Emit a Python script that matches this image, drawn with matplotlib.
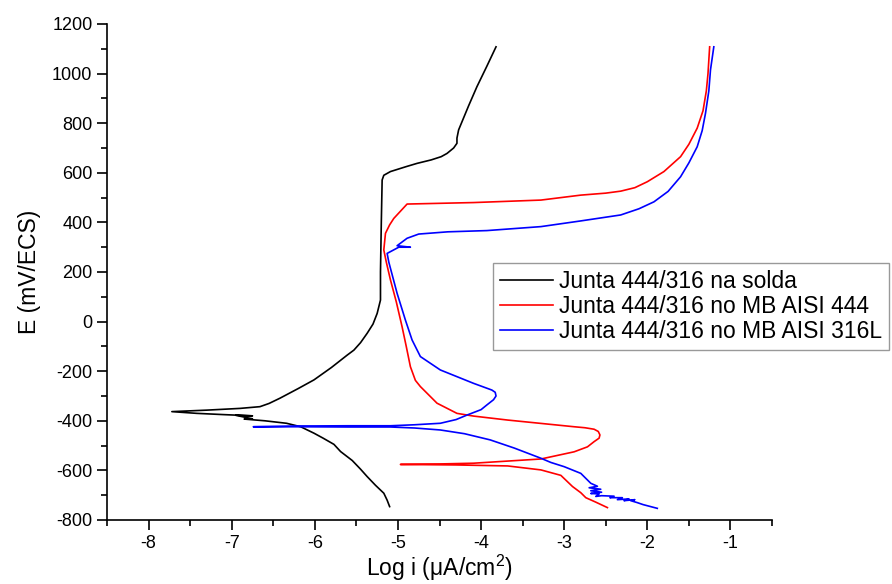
import numpy as np
import matplotlib
matplotlib.use('Agg')
import matplotlib.pyplot as plt
from matplotlib.ticker import MultipleLocator

plt.rcParams['font.family'] = ['Liberation Sans', 'DejaVu Sans']
plt.rcParams['axes.unicode_minus'] = False
plt.rcParams['mathtext.fontset'] = 'custom'
plt.rcParams['mathtext.rm'] = 'Liberation Sans'

# Junta 444/316 na solda (black) - log i, E
solda_logi = [-5.10, -5.13, -5.17, -5.27, -5.37, -5.45, -5.55, -5.69, -5.77, -5.90, -6.01,
              -6.17, -6.34, -6.60, -6.85, -6.75, -6.95, -6.75, -7.10, -7.42, -7.72,
              -7.30, -6.90, -6.66, -6.55, -6.42, -6.20, -6.01, -5.80, -5.61, -5.53,
              -5.45, -5.37, -5.30, -5.25, -5.21, -5.21, -5.20, -5.19, -5.17, -5.09,
              -4.90, -4.77, -4.60, -4.48, -4.41, -4.33, -4.29, -4.29, -4.27, -4.15,
              -4.05, -3.93, -3.82]
solda_E = [-746, -720, -692, -660, -625, -595, -560, -524, -495, -470, -450,
           -424, -410, -400, -393, -392, -378, -380, -375, -370, -363,
           -357, -350, -343, -330, -309, -270, -235, -185, -135, -115,
           -85, -47, -10, 33, 87, 200, 400, 571, 590, 605,
           625, 638, 652, 665, 678, 700, 719, 740, 773, 870,
           947, 1030, 1108]

# Junta 444/316 no MB AISI 444 (red)
mb444_logi = [-2.48, -2.62, -2.74, -2.80, -2.90, -3.04, -3.28, -3.68, -4.30, -4.97,
              -4.50, -4.09, -3.28, -2.88, -2.72, -2.64, -2.58, -2.57, -2.59, -2.64,
              -2.75, -2.88, -3.68, -4.09, -4.29, -4.53, -4.73, -4.79, -4.85, -4.90,
              -4.95, -5.02, -5.09, -5.14, -5.17, -5.15, -5.10, -5.05, -4.97, -4.89,
              -4.09, -3.28, -2.80, -2.50, -2.32, -2.15, -2.00, -1.80, -1.60, -1.50,
              -1.40, -1.33, -1.29, -1.27, -1.25]
mb444_E = [-750, -728, -710, -690, -665, -620, -598, -582, -578, -576,
           -574, -571, -554, -525, -505, -484, -470, -457, -443, -434,
           -428, -424, -397, -381, -370, -329, -262, -237, -182, -100,
           -21, 80, 168, 240, 289, 356, 390, 416, 445, 474,
           480, 490, 510, 518, 526, 540, 564, 605, 665, 715,
           780, 850, 930, 1000, 1108]

# Junta 444/316 no MB AISI 316L (blue)
mb316_logi = [-1.88, -2.05, -2.12, -2.20, -2.15, -2.28, -2.22, -2.36, -2.30, -2.45,
              -2.40, -2.55, -2.62, -2.58, -2.68, -2.55, -2.68, -2.56, -2.70, -2.60,
              -2.68, -2.80, -3.00, -3.16, -3.28, -3.60, -3.89, -4.20, -4.49, -4.80,
              -5.09, -5.60, -6.20, -6.74, -6.20, -5.60, -5.09, -4.80, -4.49, -4.30,
              -4.17, -4.00, -3.93, -3.85, -3.82, -3.83, -3.87, -4.09, -4.49, -4.73,
              -4.83, -4.91, -5.01, -5.11, -5.13, -4.99, -4.85, -5.01, -4.89, -4.75,
              -4.40, -3.93, -3.28, -2.80, -2.32, -2.10, -1.92, -1.75, -1.60, -1.50,
              -1.40, -1.34, -1.30, -1.26, -1.24, -1.20]
mb316_E = [-753, -738, -730, -722, -718, -722, -715, -718, -710, -710,
           -704, -702, -705, -695, -693, -688, -682, -676, -670, -664,
           -652, -612, -585, -568, -551, -510, -477, -452, -437, -429,
           -425, -425, -424, -424, -421, -420, -420, -416, -410, -395,
           -377, -355, -336, -315, -300, -285, -276, -249, -195, -141,
           -74, 6, 114, 240, 275, 300, 300, 306, 336, 353,
           362, 367, 383, 406, 430, 455, 483, 525, 584, 640,
           705, 770, 840, 930, 1015, 1108]

labels = ['Junta 444/316 na solda', 'Junta 444/316 no MB AISI 444', 'Junta 444/316 no MB AISI 316L']

fig = plt.figure(figsize=(8.92, 5.84), dpi=100)
ax = fig.add_axes([107 / 892, 1 - 520 / 584, (772 - 107) / 892, (520 - 24) / 584])

ax.plot(solda_logi, solda_E, color='black', lw=1.2, label=labels[0])
ax.plot(mb444_logi, mb444_E, color='#ff0000', lw=1.2, label=labels[1])
ax.plot(mb316_logi, mb316_E, color='#0000ff', lw=1.2, label=labels[2])

ax.set_xlim(-8.5, -0.5)
ax.set_ylim(-800, 1200)
ax.xaxis.set_major_locator(MultipleLocator(1))
ax.xaxis.set_minor_locator(MultipleLocator(0.5))
ax.yaxis.set_major_locator(MultipleLocator(200))
ax.yaxis.set_minor_locator(MultipleLocator(100))
ax.spines['top'].set_visible(False)
ax.spines['right'].set_visible(False)
for s in ['left', 'bottom']:
    ax.spines[s].set_linewidth(1.2)
ax.tick_params(which='major', direction='out', length=7, width=1.2, labelsize=13)
ax.tick_params(which='minor', direction='out', length=4, width=1.2)

ax.set_xlabel('Log i (μA/cm$^{2}$)', fontsize=16.5, labelpad=1)
ax.set_ylabel('E (mV/ECS)', fontsize=16.5, labelpad=8)

leg = fig.legend(loc='upper left', bbox_to_anchor=(493 / 892, 1 - 263 / 584),
                 bbox_transform=fig.transFigure, fontsize=16.5, frameon=True,
                 fancybox=False, edgecolor='#999999', framealpha=1,
                 handlelength=2.3, handletextpad=0.3, labelspacing=0.1,
                 borderpad=0.3, borderaxespad=0)
leg.get_frame().set_linewidth(1.0)

fig.savefig('out.png', dpi=100)
